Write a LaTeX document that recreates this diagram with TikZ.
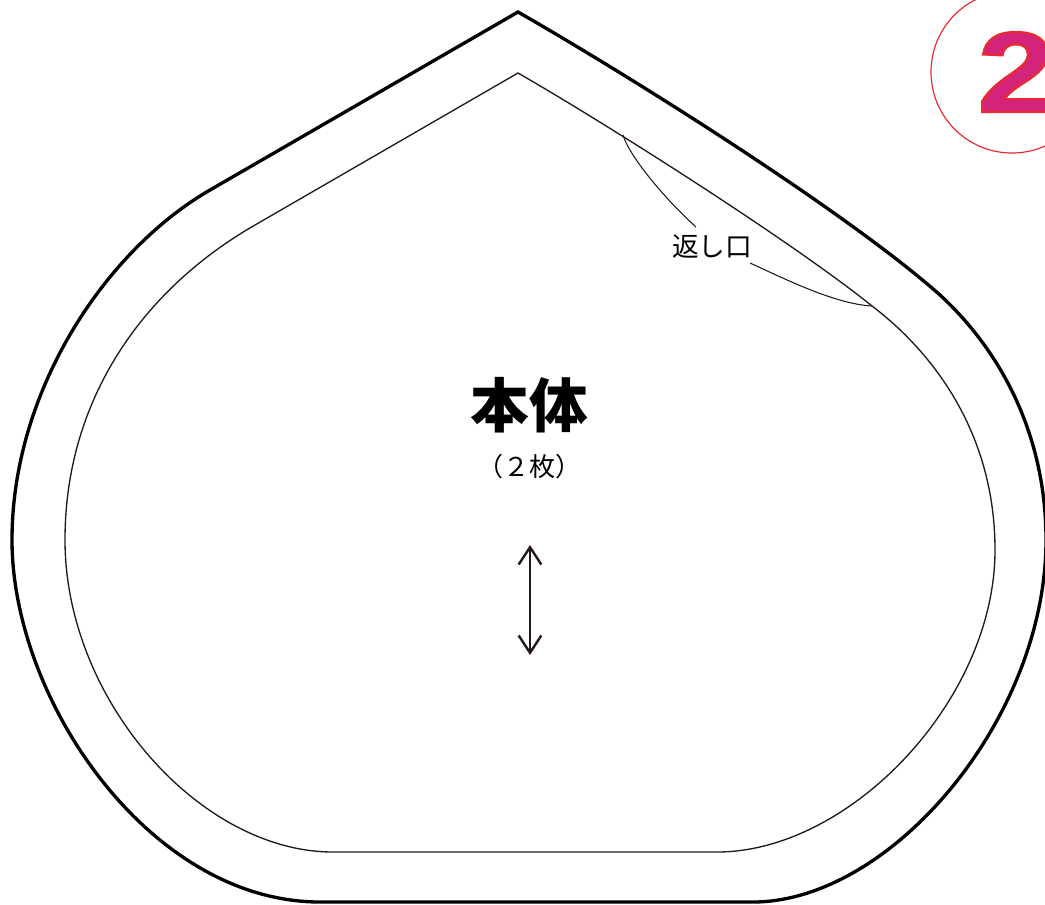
\documentclass[tikz,border=0pt]{standalone}
\usepackage{fontspec}
\setmainfont{Liberation Sans}
\newfontfamily\jpfont{Noto Sans CJK JP}
\usetikzlibrary{arrows.meta}

\definecolor{seam}{RGB}{35,24,21}
\definecolor{ringred}{RGB}{232,44,48}
\definecolor{badge}{RGB}{212,35,122}

\tikzset{
  cutline/.style={draw=black,line width=2.5},
  seamline/.style={draw=seam,line width=1},
  leader/.style={draw=seam,line width=0.8},
}

\begin{document}
\begin{tikzpicture}[x=0.75pt,y=0.75pt,yscale=-1,xscale=1]
\useasboundingbox (0,0) rectangle (1045,904);
\clip (0,0) rectangle (1045,904);

%Shape: outer cut line
\draw [cutline] (518,12) -- (210,190) .. controls (106,250) and (12,390) .. (12,540) .. controls (12,700) and (150,902) .. (320,902) -- (753,902) .. controls (890,902) and (1046,720) .. (1046,540) .. controls (1046,440) and (1005,355) .. (940,295) .. controls (850,215) and (640,82) .. (518,12) -- cycle ;

%Shape: inner seam line
\draw [seamline] (518,73) -- (255,225) .. controls (142,290) and (65,400) .. (65,540) .. controls (65,700) and (200,852) .. (333,852) -- (717,852) .. controls (850,852) and (995,700) .. (995,550) .. controls (995,430) and (930,350) .. (872,306) .. controls (790,240) and (600,120) .. (518,73) -- cycle ;

% Opening marks
\coordinate (gapTop) at (623,135);
\coordinate (gapBot) at (872,306);
\coordinate (leadA) at (696,227);
\coordinate (leadB) at (750,263);
\node (openLabel) at (712,247) {\jpfont\fontsize{20}{22}\selectfont 返し口};
\draw [leader] (gapTop) .. controls (630,158) and (668,202) .. (leadA) ;
\draw [leader] (leadB) .. controls (785,279) and (835,304) .. (gapBot) ;

% Text Node
\node (partName) at (529,405) {\jpfont\bfseries\fontsize{44}{48}\selectfont 本体};
% Text Node
\node (partCount) at (529,467) {\jpfont\fontsize{19.5}{22}\selectfont （２枚）};

% Grain arrow
\coordinate (grainTop) at (530,545);
\coordinate (grainBot) at (530,655);
\draw [seam,line width=1.8,{Straight Barb[length=13pt,width=17pt]}-{Straight Barb[length=13pt,width=17pt]}] (grainTop) -- (grainBot) ;

% Step badge
\draw [ringred,line width=0.9] (1012,72) circle (81) ;
\node (stepNo) [text=badge,xscale=1.2] at (1016,72) {\special{pdf:literal direct 0.91 0.17 0.19 RG 1.6 w 2 Tr}\fontsize{86}{90}\selectfont\bfseries 2\special{pdf:literal direct 0 Tr}};

\end{tikzpicture}
\end{document}
